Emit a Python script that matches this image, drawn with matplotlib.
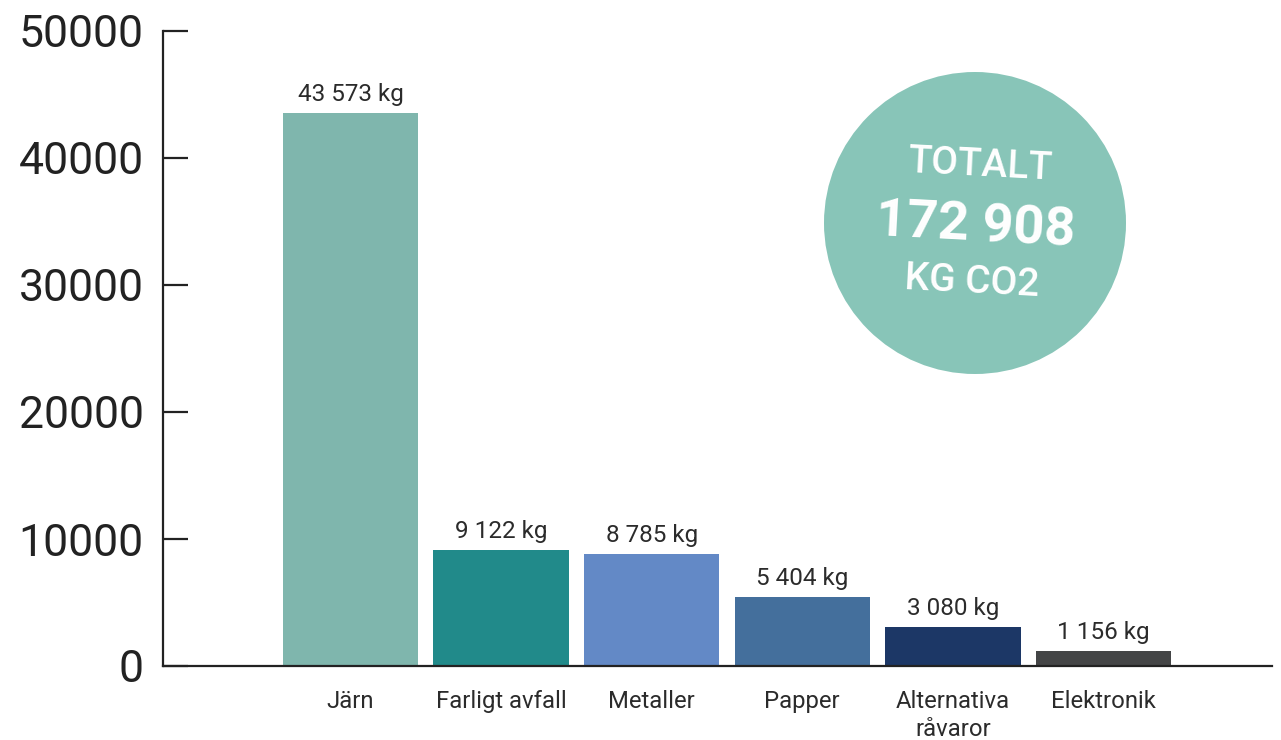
import matplotlib.pyplot as plt
from matplotlib.patches import Ellipse

plt.rcParams['font.family'] = ['Roboto', 'DejaVu Sans']

kategorier = ['Järn', 'Farligt avfall', 'Metaller', 'Papper', 'Alternativa\nråvaror', 'Elektronik']
varden = [43573, 9122, 8785, 5404, 3080, 1156]
etiketter = ['43 573 kg', '9 122 kg', '8 785 kg', '5 404 kg', '3 080 kg', '1 156 kg']
farger = ['#7fb6ad', '#218a8a', '#6389c6', '#446f9c', '#1c3766', '#444546']
y_ticks = [0, 10000, 20000, 30000, 40000, 50000]
totalt = '172 908'

fig = plt.figure(figsize=(12.81, 7.40), dpi=100)
ax = fig.add_axes([163 / 1281, 1 - 666 / 740, (1272 - 163) / 1281, (666 - 31) / 740])

x = list(range(len(kategorier)))
bars = ax.bar(x, varden, width=0.9, color=farger, zorder=1)

for b, txt in zip(bars, etiketter):
    ax.annotate(txt, (b.get_x() + b.get_width() / 2, b.get_height()),
                xytext=(0, 5), textcoords='offset points',
                ha='center', va='bottom', fontsize=17.5, color='#2b2b2b')

ax.set_xlim(-1.246, 6.12)
ax.set_ylim(0, 50000)
ax.set_xticks(x)
ax.set_xticklabels(kategorier, fontsize=17.2, color='#2b2b2b', linespacing=1.3)
ax.set_yticks(y_ticks)
ax.set_yticklabels([str(v) for v in y_ticks], fontsize=32, color='#222222')

ax.tick_params(axis='x', length=0, pad=17)
ax.tick_params(axis='y', direction='in', length=18, width=1.6, color='#222222', pad=14)

for s in ['top', 'right']:
    ax.spines[s].set_visible(False)
ax.spines['left'].set_linewidth(1.6)
ax.spines['left'].set_color('#222222')
ax.spines['bottom'].set_linewidth(1.6)
ax.spines['bottom'].set_color('#222222')
ax.spines['bottom'].set_zorder(3)

# cirkel med totalen
cx, cy = 975 / 1281, 1 - 223 / 740
fig.patches.append(Ellipse((cx, cy), 302 / 1281, 302 / 740, transform=fig.transFigure,
                           facecolor='#88c5b8', edgecolor='none'))
fig.text(980 / 1281, 1 - 165 / 740, 'TOTALT', ha='center', va='center', fontsize=28,
         fontweight='medium', color='white', rotation=-3)
fig.text(975 / 1281, 1 - 226 / 740, totalt, ha='center', va='center', fontsize=39,
         fontweight='bold', color='white', rotation=-3)
fig.text(972 / 1281, 1 - 282 / 740, 'KG CO2', ha='center', va='center', fontsize=28,
         fontweight='medium', color='white', rotation=-3)

fig.savefig('out.png', dpi=100)
